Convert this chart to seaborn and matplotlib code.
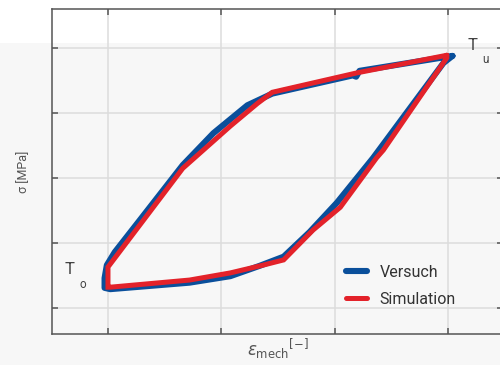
import matplotlib
matplotlib.use("Agg")
import matplotlib.pyplot as plt
import pandas as pd
import seaborn as sns
from matplotlib.patches import Rectangle

# hysteresis loop (x grid = 0..3, y grid = 0..4, no tick labels)
versuch_x = [3.04, 2.96, 2.34, 2.02, 1.78, 1.55, 1.34, 1.08, 0.72, 0.02, -0.03, -0.03,
             -0.01, 0.06, 0.28, 0.66, 0.93, 1.23, 1.45, 2.16, 2.19, 2.22, 3.04]
versuch_y = [3.88, 3.77, 2.31, 1.62, 1.17, 0.79, 0.65, 0.49, 0.39, 0.29, 0.31, 0.46,
             0.66, 0.86, 1.35, 2.20, 2.69, 3.12, 3.30, 3.58, 3.56, 3.65, 3.88]

simulation_x = [2.99, 2.99, 2.43, 2.37, 2.05, 1.81, 1.55, 1.37, 1.08, 0.72, 0.02, 0.0,
                0.0, 0.66, 1.08, 1.32, 1.45, 1.70, 2.20, 2.99]
simulation_y = [3.89, 3.85, 2.43, 2.31, 1.55, 1.20, 0.74, 0.66, 0.54, 0.43, 0.32, 0.32,
                0.63, 2.15, 2.80, 3.15, 3.32, 3.42, 3.62, 3.89]

x_ticks = [0, 1, 2, 3]
y_ticks = [0, 1, 2, 3, 4]

BLUE = "#0a4f9b"
RED = "#e3222a"
GREY_TXT = "#555555"


def main():
    sns.set_theme(style="ticks")
    plt.rcParams["font.family"] = ["Roboto", "DejaVu Sans"]

    fig = plt.figure(figsize=(5.0, 3.65), dpi=100)
    fig.patch.set_facecolor("white")
    fig.add_artist(Rectangle((0, 0), 1, 0.882, transform=fig.transFigure,
                             facecolor="#f7f7f7", edgecolor="none", zorder=-10))

    ax = fig.add_axes([0.104, 0.085, 0.902, 0.89])
    ax.set_facecolor("none")

    df_v = pd.DataFrame({"x": versuch_x, "y": versuch_y})
    df_s = pd.DataFrame({"x": simulation_x, "y": simulation_y})
    sns.lineplot(data=df_v, x="x", y="y", sort=False, estimator=None, color=BLUE,
                 linewidth=4.4, label="Versuch", ax=ax, solid_joinstyle="round")
    sns.lineplot(data=df_s, x="x", y="y", sort=False, estimator=None, color=RED,
                 linewidth=3.6, label="Simulation", ax=ax, solid_joinstyle="miter")

    ax.set_xlim(-0.494, 3.486)
    ax.set_ylim(-0.4, 4.6)
    ax.set_xticks(x_ticks)
    ax.set_yticks(y_ticks)
    ax.grid(True, color="#dcdcdc", linewidth=1.1)
    ax.set_axisbelow(True)
    ax.tick_params(direction="in", length=4, width=1.1, color="#555555",
                   top=True, right=True, labelleft=False, labelbottom=False)
    for side in ["left", "bottom", "top", "right"]:
        ax.spines[side].set_color("#555555")
        ax.spines[side].set_linewidth(1.1)

    ax.set_xlabel(r"$\epsilon_{\mathrm{mech}}{}^{\mathrm{[-]}}$", fontsize=12,
                  color=GREY_TXT, labelpad=2)
    ax.set_ylabel("σ [MPa]", fontsize=9, color=GREY_TXT, labelpad=16)

    # temperature markers
    ax.text(0.028, 0.185, "T", transform=ax.transAxes, fontsize=12, color="#444444")
    ax.text(0.06, 0.14, "o", transform=ax.transAxes, fontsize=8.5, color="#444444")
    ax.text(0.922, 0.875, "T", transform=ax.transAxes, fontsize=12, color="#444444")
    ax.text(0.955, 0.835, "u", transform=ax.transAxes, fontsize=8.5, color="#444444")

    leg = ax.legend(loc="lower left", bbox_to_anchor=(0.62, 0.04), frameon=False,
                    fontsize=11.5, handlelength=1.3, handletextpad=0.8, labelspacing=0.75)
    for t in leg.get_texts():
        t.set_color("#333333")

    fig.savefig("out.png", dpi=100)
    plt.close(fig)


if __name__ == "__main__":
    main()
